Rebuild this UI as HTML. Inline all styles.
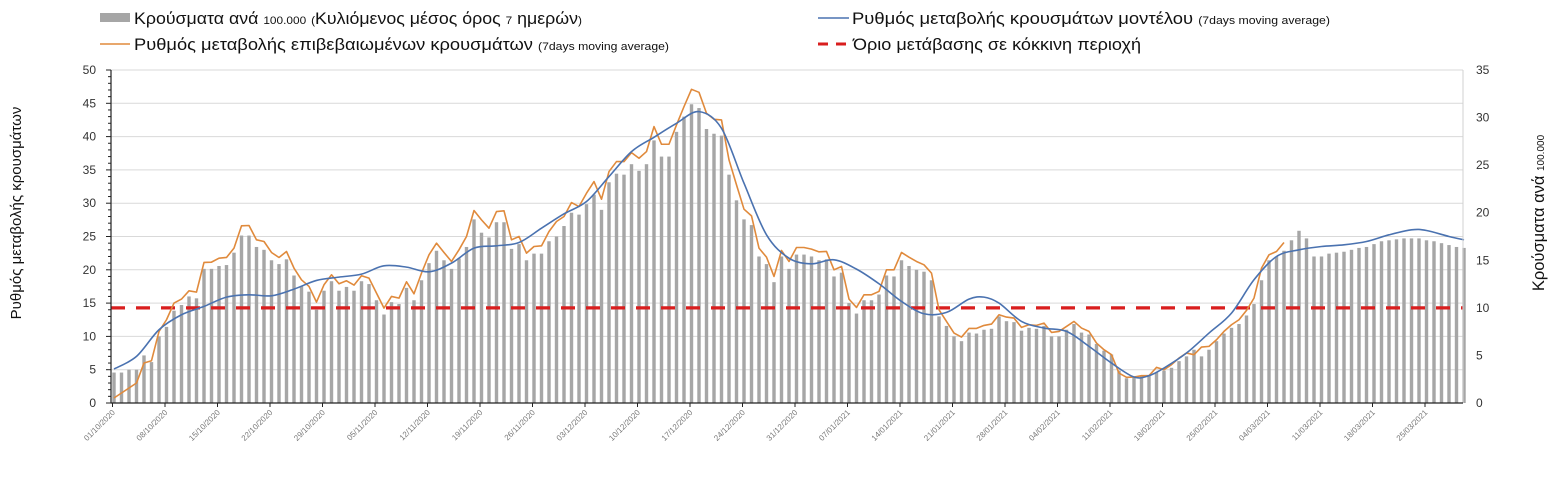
<!DOCTYPE html>
<html><head><meta charset="utf-8">
<style>
body{margin:0;background:#fff;width:1558px;height:483px;overflow:hidden;font-family:"Liberation Sans","DejaVu Sans",sans-serif}
svg text{font-family:"Liberation Sans","DejaVu Sans",sans-serif}
</style></head><body>
<svg id="chart" width="1558" height="483" viewBox="0 0 1558 483" xmlns="http://www.w3.org/2000/svg">
<g id="legend">
 <g>
  <rect x="100" y="13" width="30" height="9" fill="#a6a6a6"/>
  <text x="134" y="24" font-size="16.5" fill="#111" textLength="448" lengthAdjust="spacingAndGlyphs">Κρούσματα ανά <tspan font-size="11">100.000</tspan> <tspan font-size="11">(</tspan>Κυλιόμενος μέσος όρος <tspan font-size="11">7</tspan> ημερών<tspan font-size="11">)</tspan></text>
 </g>
 <g>
  <line x1="100" y1="44" x2="130" y2="44" stroke="#e08a3c" stroke-width="1.5"/>
  <text x="134" y="50" font-size="16.5" fill="#111" textLength="535" lengthAdjust="spacingAndGlyphs">Ρυθμός μεταβολής επιβεβαιωμένων κρουσμάτων <tspan font-size="11">(7days moving average)</tspan></text>
 </g>
 <g>
  <line x1="818" y1="18" x2="849" y2="18" stroke="#4a72b0" stroke-width="1.5"/>
  <text x="852" y="24" font-size="16.5" fill="#111" textLength="478" lengthAdjust="spacingAndGlyphs">Ρυθμός μεταβολής κρουσμάτων μοντέλου <tspan font-size="11">(7days moving average)</tspan></text>
 </g>
 <g>
  <line x1="818" y1="44" x2="852" y2="44" stroke="#d91e1e" stroke-width="3" stroke-dasharray="10,8"/>
  <text x="853" y="50" font-size="16.5" fill="#111" textLength="288" lengthAdjust="spacingAndGlyphs">Όριο μετάβασης σε κόκκινη περιοχή</text>
 </g>
</g>
<text transform="translate(21,213) rotate(-90)" text-anchor="middle" font-size="15" fill="#111">Ρυθμός μεταβολής κρουσμάτων</text>
<text transform="translate(1544,213) rotate(-90)" text-anchor="middle" font-size="16.5" fill="#111">Κρούσματα ανά <tspan font-size="10">100.000</tspan></text>
<g id="grid"></g>
<g id="bars"></g>
<g id="lines"></g>
<g id="axes"></g>
</svg>
<script>
const startDay = 0;
const tickLabels = ["01/10/2020","08/10/2020","15/10/2020","22/10/2020","29/10/2020","05/11/2020","12/11/2020","19/11/2020","26/11/2020","03/12/2020","10/12/2020","17/12/2020","24/12/2020","31/12/2020","07/01/2021","14/01/2021","21/01/2021","28/01/2021","04/02/2021","11/02/2021","18/02/2021","25/02/2021","04/03/2021","11/03/2021","18/03/2021","25/03/2021"];
const leftTicks = [0,5,10,15,20,25,30,35,40,45,50];
const rightTicks = [0,5,10,15,20,25,30,35];
const redThreshold = 10;
const cases = [3.2,3.2,3.5,3.5,5.0,4.3,7.0,8.0,9.7,10.3,11.2,11.0,14.1,14.1,14.4,14.5,15.8,17.6,17.6,16.4,16.1,15.0,14.6,15.1,13.4,12.3,11.7,9.8,11.8,12.8,11.8,12.2,11.8,12.8,12.5,10.8,9.3,10.6,10.4,12.1,10.8,12.9,14.7,16.0,15.0,14.1,15.2,16.4,19.3,17.9,17.4,19.0,19.0,16.2,16.7,15.0,15.7,15.7,17.0,17.5,
18.6,20.0,19.8,20.9,21.9,20.3,23.2,24.1,24.0,25.1,24.4,25.1,27.6,25.9,25.9,28.5,30.1,31.4,31.0,28.8,28.3,28.1,24.0,21.3,19.3,18.7,15.4,14.6,12.7,15.4,14.1,15.6,15.6,15.4,15.0,15.1,13.3,13.7,10.5,9.4,10.8,10.8,11.4,13.4,13.3,15.0,14.4,14.0,13.8,12.9,9.1,8.1,7.0,6.5,7.4,7.3,7.7,7.8,
9.1,8.6,8.5,7.6,7.9,7.8,8.1,7.0,7.0,7.7,8.3,7.4,7.2,6.2,5.5,5.1,3.4,2.6,2.7,2.8,2.9,3.2,3.4,3.7,4.4,4.9,5.6,4.9,5.6,6.5,7.3,7.9,8.3,9.2,10.4,12.9,15.0,15.4,16.0,17.1,18.1,17.3,15.4,15.4,15.7,15.8,15.9,16.1,16.3,16.4,16.7,17.0,17.1,17.2,17.3,17.3,17.3,17.1,17.0,16.8,16.6,16.4,16.3];
const confirmedRate = [0.75,1.5,2.25,3.0,6.0,6.35,10.75,12.5,15.0,15.6,16.85,16.65,21.1,21.15,21.75,21.85,23.25,26.6,26.65,24.5,24.25,22.6,21.85,22.75,20.25,18.5,17.5,15.15,17.75,19.25,17.9,18.35,17.7,19.1,18.75,16.5,14.25,16.0,15.75,18.2,16.4,19.5,22.25,24.0,22.6,21.25,23.0,25.0,28.9,27.5,26.25,28.75,28.85,24.5,25.0,22.5,23.5,23.6,25.75,27.25,
28.0,30.1,29.5,31.5,33.25,30.6,34.75,36.25,36.25,37.6,36.75,37.75,41.5,38.85,38.85,41.75,44.5,47.1,46.65,43.5,42.6,42.5,36.5,32.75,29.1,28.1,23.25,21.9,19.0,22.9,21.25,23.35,23.35,23.1,22.7,22.75,20.0,20.5,15.6,14.35,16.25,16.25,16.75,20.0,20.0,22.6,21.9,21.25,20.75,19.5,14.0,12.25,10.5,9.9,11.2,11.2,11.65,11.85,
13.25,12.9,12.75,11.35,11.75,11.65,12.0,10.6,10.75,11.5,12.25,11.25,10.75,9.0,8.0,7.25,4.5,3.85,3.9,4.1,4.1,5.35,5.0,5.75,6.75,7.5,7.25,8.4,8.5,9.5,10.75,11.75,12.5,13.9,15.75,20.25,22.25,22.75,24.1];
const modelDays = [0,3,6,9,12,15,18,21,24,27,30,33,36,39,42,45,48,51,54,57,60,63,66,69,72,75,78,81,84,87,90,93,96,99,102,105,108,111,114,116,118,121,124,127,130,133,136,138,140,143,146,149,152,155,158,161,164,167,170,173,175,178,180];
const modelRate = [5.1,7.0,11.0,13.25,14.5,15.9,16.25,16.1,17.1,18.4,18.9,19.35,20.6,20.4,19.7,21.0,23.25,23.6,24.1,26.25,28.4,30.25,34.0,37.75,39.9,42.0,43.75,41.25,33.0,25.25,21.75,20.9,21.5,20.1,17.9,15.25,13.4,13.6,15.6,15.9,15.0,12.25,11.25,10.75,8.5,6.0,3.9,4.1,5.25,7.5,10.5,13.5,18.5,22.0,23.0,23.5,23.75,24.25,25.25,26.0,25.9,25.0,24.5];

const NS="http://www.w3.org/2000/svg";
const X0=114, DX=7.5, L=111, R=1463, T=70, B=403;
const xDay = d => X0 + DX*d;
const yLeft = v => B - (B-T)*v/50;
const yRight = v => B - (B-T)*v/35;
function mk(tag, attrs, parent){const e=document.createElementNS(NS,tag);for(const k in attrs)e.setAttribute(k,attrs[k]);parent.appendChild(e);return e;}
const grid=document.getElementById('grid'), barsG=document.getElementById('bars'), linesG=document.getElementById('lines'), axes=document.getElementById('axes');

leftTicks.forEach(v=>{
  if(v>0){const g=mk('line',{x1:L,x2:R,y1:yLeft(v),y2:yLeft(v),stroke:'#d9d9d9','stroke-width':1},grid);
  
  }
  const t=mk('text',{x:96,y:yLeft(v)+4,'text-anchor':'end','font-size':12,fill:'#333'},axes);
  t.textContent=v;
  
  
});
for(let v=0;v<=50;v++){const m=mk('line',{x1:v%5===0?106:108,x2:L,y1:yLeft(v),y2:yLeft(v),stroke:'#222','stroke-width':1},axes);
  
  }
rightTicks.forEach(v=>{
  const t=mk('text',{x:1476,y:yRight(v)+4,'font-size':12,fill:'#333'},axes);
  t.textContent=v;
  
  
});
const la=mk('line',{x1:L,x2:L,y1:T,y2:B,stroke:'#222','stroke-width':1.2},axes);


const ra=mk('line',{x1:R,x2:R,y1:T,y2:B,stroke:'#d0d0d0','stroke-width':1},axes);



cases.forEach((v,i)=>{
  const r=mk('rect',{x:xDay(i)-1.7,y:yRight(v),width:3.4,height:B-yRight(v),fill:'#a6a6a6'},barsG);
  
  
});

const redY=yRight(redThreshold);
const red=mk('line',{x1:L,x2:R,y1:redY,y2:redY,stroke:'#d91e1e','stroke-width':3.2,'stroke-dasharray':'14,11'},linesG);



const pts=confirmedRate.map((v,i)=>[xDay(i),yLeft(v)]);
const orange=mk('polyline',{points:pts.map(p=>p.join(',')).join(' '),fill:'none',stroke:'#e08a3c','stroke-width':1.6,'stroke-linejoin':'round'},linesG);



const bp=modelRate.map((v,i)=>[xDay(modelDays[i]),yLeft(v)]);
let d='M'+bp[0].join(',');
for(let i=0;i<bp.length-1;i++){
  const p0=bp[Math.max(0,i-1)],p1=bp[i],p2=bp[i+1],p3=bp[Math.min(bp.length-1,i+2)];
  const c1=[p1[0]+(p2[0]-p0[0])/6,p1[1]+(p2[1]-p0[1])/6];
  const c2=[p2[0]-(p3[0]-p1[0])/6,p2[1]-(p3[1]-p1[1])/6];
  d+=' C'+c1.join(',')+' '+c2.join(',')+' '+p2.join(',');
}
const blue=mk('path',{d:d,fill:'none',stroke:'#4a72b0','stroke-width':1.6},linesG);



const xa=mk('line',{x1:L,x2:R,y1:B,y2:B,stroke:'#222','stroke-width':1.2},axes);


tickLabels.forEach((s,k)=>{
  const x=xDay(startDay+7*k)-1.5;
  const tk=mk('line',{x1:x,x2:x,y1:B,y2:B+4,stroke:'#222'},axes);
  
  
  const t=mk('text',{transform:`translate(${x+3},${B+10}) rotate(-45)`,'text-anchor':'end','font-size':8,fill:'#777'},axes);
  t.textContent=s;
  
  
});
</script>
</body></html>
